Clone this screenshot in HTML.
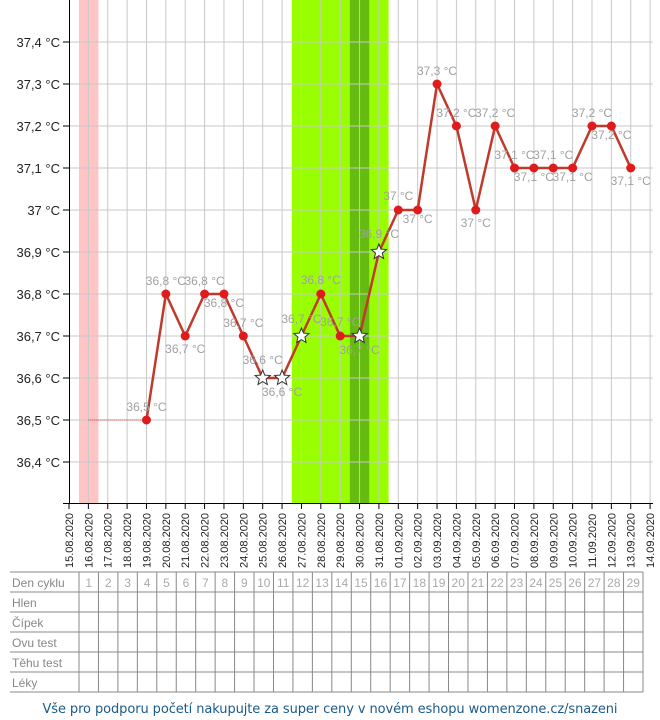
<!DOCTYPE html>
<html><head><meta charset="utf-8"><style>
body{margin:0;background:#fff;width:660px;height:720px;overflow:hidden}
svg{display:block;font-family:"Liberation Sans",Arial,sans-serif}
</style></head><body>
<svg id="s" width="660" height="720" xmlns="http://www.w3.org/2000/svg"></svg>
<script>
const s=document.getElementById('s');let h='';
const X=i=>69+i*19.37, Y=t=>420-(t-36.5)*420;
h+=`<rect x="79" y="0" width="19.4" height="503" fill="#ffc4c4"/>`;
h+=`<rect x="${X(11.5)}" y="0" width="${19.37*5}" height="503" fill="#99ff00"/>`;
h+=`<rect x="${X(14.5)}" y="0" width="19.37" height="503" fill="#66bb11"/>`;
for(let i=1;i<=30;i++)h+=`<line x1="${X(i)}" y1="0" x2="${X(i)}" y2="503" stroke="#c8c8c8" stroke-width="1"/>`;
const temps=[36.4,36.5,36.6,36.7,36.8,36.9,37.0,37.1,37.2,37.3,37.4];
temps.forEach(t=>{const y=Y(t);h+=`<line x1="64" y1="${y}" x2="653" y2="${y}" stroke="#c8c8c8"/><line x1="63" y1="${y}" x2="69" y2="${y}" stroke="#000"/>`;
 const lab=(t===37?'37':t.toFixed(1).replace('.',','))+' °C';
 h+=`<text x="60" y="${y+5}" font-size="13" text-anchor="end" fill="#222">${lab}</text>`;});
h+=`<line x1="69.5" y1="0" x2="69.5" y2="504" stroke="#000"/><line x1="63" y1="503.5" x2="653" y2="503.5" stroke="#000"/>`;
const d=[];for(let i=15;i<=31;i++)d.push(String(i).padStart(2,'0')+'.08.2020');for(let i=1;i<=14;i++)d.push(String(i).padStart(2,'0')+'.09.2020');
d.forEach((t,i)=>{h+=`<line x1="${X(i)}" y1="503" x2="${X(i)}" y2="509" stroke="#000"/><text transform="translate(${X(i)+4},568) rotate(-90)" font-size="11" fill="#222">${t}</text>`;});
const v=[[4,36.5,0,-9],[5,36.8,0,-9],[6,36.7,0,17],[7,36.8,0,-9],[8,36.8,0,13],[9,36.7,0,-9],[10,36.6,1,-14],[11,36.6,1,18],[12,36.7,1,-13],[13,36.8,0,-10],[14,36.7,0,-10],[15,36.7,1,18],[16,36.9,1,-14],[17,37,0,-10],[18,37,0,13],[19,37.3,0,-9],[20,37.2,0,-9],[21,37,0,17],[22,37.2,0,-9],[23,37.1,0,-9],[24,37.1,0,13],[25,37.1,0,-9],[26,37.1,0,13],[27,37.2,0,-9],[28,37.2,0,13],[29,37.1,0,17]];
h+=`<line x1="${X(1)}" y1="420" x2="${X(4)}" y2="420" stroke="#c33" stroke-dasharray="1,1"/>`;
h+=`<polyline fill="none" stroke="#c0392b" stroke-width="2.5" points="${v.map(p=>X(p[0])+','+Y(p[1])).join(' ')}"/>`;
v.forEach(p=>{const x=X(p[0]),y=Y(p[1]);
 const lab=(p[1]===37?'37':p[1].toFixed(1).replace('.',','))+' °C';
 h+=`<text x="${x}" y="${y+p[3]}" font-size="12" text-anchor="middle" fill="#a0a0a0">${lab}</text>`;
 if(p[2]){let pts=[];for(let j=0;j<10;j++){const r=j%2?3.6:8,a=-Math.PI/2+j*Math.PI/5;pts.push((x+r*Math.cos(a)).toFixed(1)+','+(y+r*Math.sin(a)).toFixed(1));}
  h+=`<polygon points="${pts.join(' ')}" fill="#fff" stroke="#333" stroke-width="1"/>`;}
 else h+=`<circle cx="${x}" cy="${y}" r="4.5" fill="#e01b1b"/>`;});
const rows=['Den cyklu','Hlen','Čípek','Ovu test','Těhu test','Léky'];
const cw=(643-79)/29;
for(let r=0;r<=6;r++)h+=`<line x1="10" y1="${572+r*20}" x2="643" y2="${572+r*20}" stroke="#888"/>`;
for(let c=0;c<=29;c++)h+=`<line x1="${79+c*cw}" y1="572" x2="${79+c*cw}" y2="692" stroke="#888"/>`;
rows.forEach((t,r)=>h+=`<text x="12" y="${587+r*20}" font-size="12" fill="#888">${t}</text>`);
for(let c=0;c<29;c++)h+=`<text x="${79+c*cw+cw/2}" y="587" font-size="12" fill="#aaa" text-anchor="middle">${c+1}</text>`;
h+=`<text x="330" y="713" font-size="13" fill="#1a5a8a" text-anchor="middle" font-family="DejaVu Sans,sans-serif" textLength="575">Vše pro podporu početí nakupujte za super ceny v novém eshopu womenzone.cz/snazeni</text>`;
s.innerHTML=h;
</script>
</body></html>
